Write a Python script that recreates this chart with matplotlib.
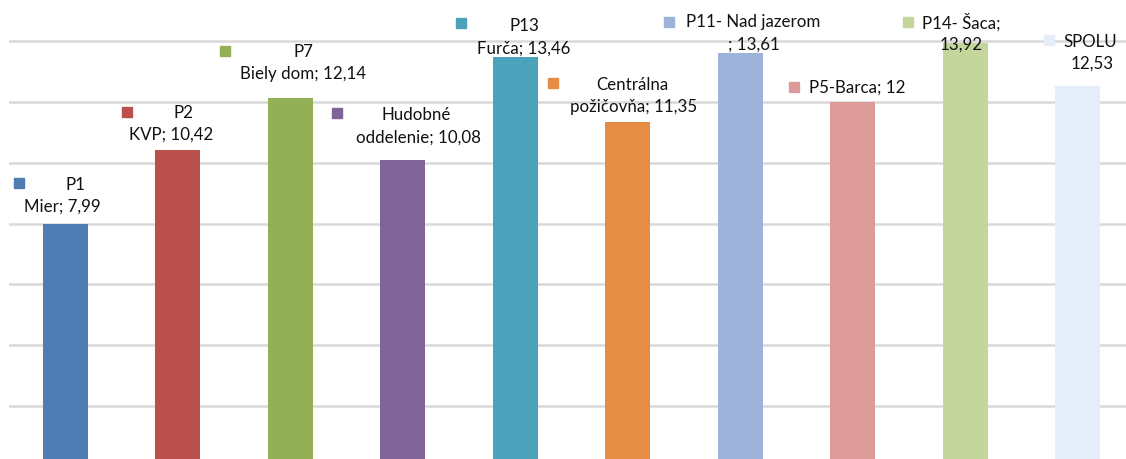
import matplotlib
matplotlib.use("Agg")
import numpy as np
from matplotlib import pyplot as plt

# data
names = ["P1 Mier", "P2 KVP", "P7 Biely dom", "Hudobné oddelenie", "P13 Furča",
         "Centrálna požičovňa", "P11- Nad jazerom", "P5-Barca", "P14- Šaca", "SPOLU"]
values = [7.99, 10.42, 12.14, 10.08, 13.46, 11.35, 13.61, 12.00, 13.92, 12.53]
colors = ["#4f7db3", "#b9504c", "#94b056", "#7f6499", "#4aa3ba",
          "#e58d45", "#9eb3da", "#dc9a99", "#c5d69c", "#e4edf9"]
label_lines = [["P1", "Mier; 7,99"], ["P2", "KVP; 10,42"], ["P7", "Biely dom; 12,14"],
               ["Hudobné", "oddelenie; 10,08"], ["P13", "Furča; 13,46"],
               ["Centrálna", "požičovňa; 11,35"], ["P11- Nad jazerom", "; 13,61"],
               ["P5-Barca; 12"], ["P14- Šaca;", "13,92"], ["SPOLU", "12,53"]]

# label layout (data coords): square position, then (x, y) for each text line
square_pos = [(-0.41, 9.33), (0.55, 11.66), (1.42, 13.67), (2.42, 11.63), (3.52, 14.59),
              (4.34, 12.61), (5.37, 14.62), (6.48, 12.48), (7.49, 14.62), (8.75, 14.03)]
line_pos = [[(0.09, 9.26), (-0.02, 8.54)],
            [(1.05, 11.63), (0.94, 10.91)],
            [(2.12, 13.63), (2.12, 12.91)],
            [(3.12, 11.56), (3.14, 10.84)],
            [(4.08, 14.49), (4.08, 13.76)],
            [(5.04, 12.55), (5.05, 11.83)],
            [(6.12, 14.62), (6.12, 13.87)],
            [(7.04, 12.48)],
            [(7.97, 14.62), (7.97, 13.87)],
            [(9.11, 13.96), (9.13, 13.27)]]

plt.rcParams["font.family"] = ["Lato", "DejaVu Sans"]

fig = plt.figure(figsize=(11.26, 4.59), dpi=100)
ax = fig.add_axes([8.75 / 1126, 0, 1125 / 1126, 1])

x = np.arange(len(values))
ax.bar(x, values, width=0.4, color=colors, linewidth=0, zorder=2)

for gy in range(2, 16, 2):
    ax.axhline(gy, color="#d9d9d9", lw=1.8, zorder=1)

for i in range(len(values)):
    sx, sy = square_pos[i]
    ax.plot(sx, sy, marker="s", ms=6.5, color=colors[i], mec=colors[i], zorder=3)
    for txt, (tx, ty) in zip(label_lines[i], line_pos[i]):
        ax.text(tx, ty, txt, ha="center", va="center", fontsize=12.2, color="#111111", zorder=3)

ax.set_xlim(-0.5, 9.5)
ax.set_ylim(0.256, 15.35)
ax.axis("off")

fig.savefig("out.png", dpi=100)
